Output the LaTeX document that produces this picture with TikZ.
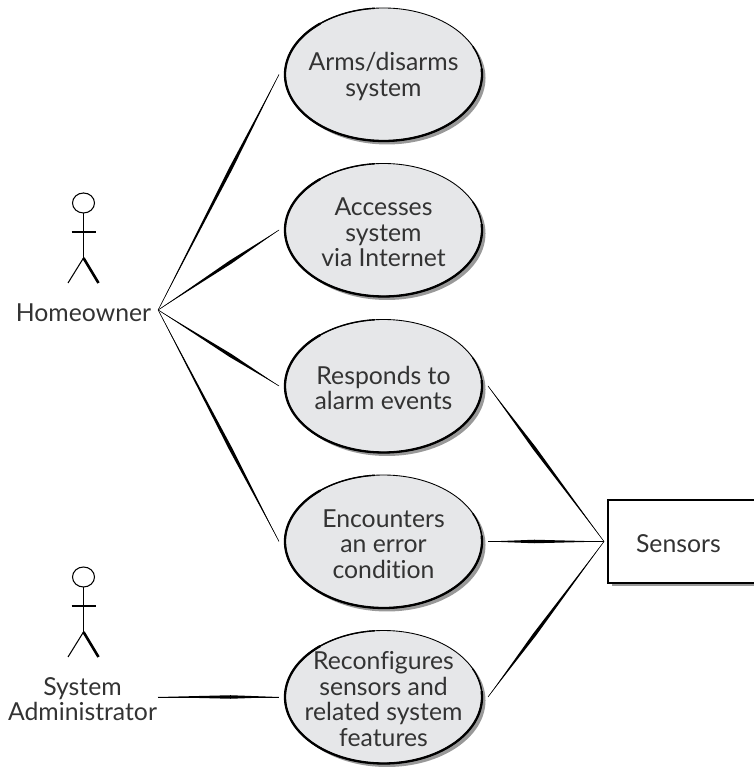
\documentclass[tikz,border=0pt]{standalone}
\usepackage{fontspec}
\setmainfont[Ligatures=NoCommon]{Lato}
\usetikzlibrary{shapes.geometric,shadows,calc}
\definecolor{usecasefill}{HTML}{E6E7E9}
\definecolor{labelgray}{HTML}{333333}
\tikzset{
    label text/.style={font=\fontsize{14.1}{14.5}\selectfont, text=labelgray, align=center},
    usecase/.style={ellipse, draw, line width=0.5pt, fill=usecasefill, label text, inner sep=-0.5cm,
        outer sep=0.12cm, minimum width=3.94cm, minimum height=2.66cm,
        drop shadow={shadow xshift=0.07cm, shadow yshift=-0.07cm, fill=black!40, opacity=1}},
    head/.style={ellipse, draw, line width=0.6pt, inner sep=0pt, outer sep=0pt, minimum width=0.44cm, minimum height=0.4cm},
    link/.style={line width=0.3pt}
}
% pushes a text down a little
\newcommand{\lift}{\rule{0pt}{12.7pt}}
% thin line with a swelling in its middle
\newcommand{\taper}[2]{
    \draw[link] (#1) -- (#2);
    \fill ($(#1)!0.6!(#2)!1pt!90:(#2)$) -- (#1) -- ($(#1)!0.6!(#2)!1pt!-90:(#2)$) -- (#2) -- cycle;
}
\begin{document}
\begin{tikzpicture}
    \useasboundingbox (0,0) rectangle (15.06,15.34);

    % Draw the use cases
    \node[usecase] (arms) at (7.67,13.85) {\lift Arms/disarms\\system};
    \node[usecase] (accesses) at (7.67,10.74) {\lift Accesses\\system\\via Internet};
    \node[usecase] (responds) at (7.67,7.62) {\lift Responds to\\alarm events};
    \node[usecase] (encounters) at (7.67,4.51) {\lift Encounters\\an error\\condition};
    \node[usecase] (reconfigures) at (7.67,1.40) {\lift Reconfigures\\sensors and\\related system\\features};

    % Thicken the outlines on the lower left
    \foreach \uc in {arms,accesses,responds,encounters,reconfigures} {
        \draw[line width=0.8pt] (\uc.center) ++(95:1.97 and 1.33) arc[start angle=95, end angle=385, x radius=1.97, y radius=1.33];
        \draw[line width=1.3pt] (\uc.center) ++(130:1.97 and 1.33) arc[start angle=130, end angle=365, x radius=1.97, y radius=1.33];
    }

    % Draw the sensors box, it runs off the page
    \node[draw, line width=0.6pt, fill=white, label text, anchor=west, outer xsep=0.08cm, outer ysep=0pt, inner xsep=0.56cm,
        text width=2.6cm, align=left, minimum height=1.66cm,
        drop shadow={shadow xshift=0.07cm, shadow yshift=-0.07cm, fill=black!40, opacity=1}]
        (sensors) at (12.08,4.51) {\lift Sensors};
    \draw[line width=1.6pt] ($(sensors.north west)+(1.2,0)$) -- ($(sensors.north west)+(0.08,0)$)
        -- ($(sensors.south west)+(0.08,0)$) -- ($(sensors.south west)+(1.8,0)$);
    \draw[line width=1pt] ($(sensors.south west)+(1.8,0)$) -- (15.06,0 |- sensors.south west);

    % Draw the actors
    \node[head] (headA) at (1.67,11.28) {};
    \node[head] (headB) at (1.67,3.80) {};
    \foreach \hd in {headA,headB} {
        \draw[line width=0.8pt] (\hd.south) -- ++(0,-0.9) coordinate (\hd hip);
        \draw[line width=0.6pt] ($(\hd hip)+(-0.24,0.52)$) -- ($(\hd hip)+(0.24,0.52)$);
        \draw[line width=0.6pt] (\hd hip) -- ++(-0.31,-0.5);
        \draw[line width=1.5pt] (\hd hip) -- ++(0.3,-0.5);
    }
    \node[label text, inner xsep=0.14cm, outer sep=0pt] (homeowner) at (1.67,9.14) {\lift Homeowner};
    \node[label text, inner xsep=0.02cm, outer sep=0pt] (admin) at (1.65,1.40) {\lift System\\Administrator};

    % Draw the links
    \foreach \uc in {arms,accesses,responds,encounters} {
        \taper{homeowner.east}{\uc.west}
    }
    \foreach \uc in {responds,encounters,reconfigures} {
        \taper{sensors.west}{\uc.east}
    }
    \taper{admin.east}{reconfigures.west}
\end{tikzpicture}
\end{document}
